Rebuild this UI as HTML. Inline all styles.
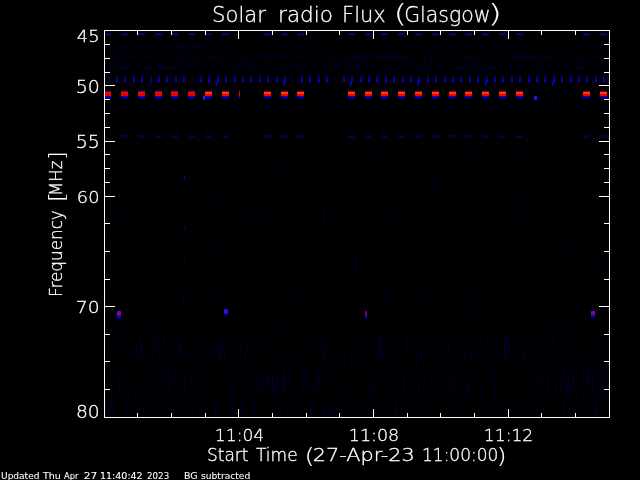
<!DOCTYPE html>
<html><head><meta charset="utf-8"><title>Solar radio Flux (Glasgow)</title>
<style>
html,body{margin:0;padding:0;background:#000;width:640px;height:480px;overflow:hidden}
svg{display:block}
text{white-space:pre}
</style></head>
<body>
<svg width="640" height="480" viewBox="0 0 640 480">
<defs>
<filter id="texA" x="0" y="0" width="1" height="1" filterUnits="objectBoundingBox" color-interpolation-filters="sRGB">
<feTurbulence type="fractalNoise" baseFrequency="0.6 0.15" numOctaves="2" seed="4"/>
<feColorMatrix type="matrix" values="0 0 0 0 0  0 0 0 0 0  0.6 0 0 0 -0.35  0 0 0 0 1"/>
</filter>
<filter id="texH" x="0" y="0" width="1" height="1" filterUnits="objectBoundingBox" color-interpolation-filters="sRGB">
<feTurbulence type="fractalNoise" baseFrequency="0.5 0.3" numOctaves="2" seed="11"/>
<feColorMatrix type="matrix" values="0 0 0 0 0  0 0 0 0 0  0.55 0 0 0 -0.22  0 0 0 0 1"/>
</filter>
<filter id="texB" x="0" y="0" width="1" height="1" filterUnits="objectBoundingBox" color-interpolation-filters="sRGB">
<feTurbulence type="fractalNoise" baseFrequency="0.9 0.025" numOctaves="2" seed="9"/>
<feColorMatrix type="matrix" values="0 0 0 0 0  0 0 0 0 0  0.55 0 0 0 -0.34  0 0 0 0 1"/>
</filter>
<filter id="texC" x="0" y="0" width="1" height="1" filterUnits="objectBoundingBox" color-interpolation-filters="sRGB">
<feTurbulence type="fractalNoise" baseFrequency="0.9 0.03" numOctaves="2" seed="2"/>
<feColorMatrix type="matrix" values="0 0 0 0 0  0 0 0 0 0  0.75 0 0 0 -0.42  0 0 0 0 1"/>
</filter>
</defs>
<rect x="0" y="0" width="640" height="480" fill="#000"/>
<g shape-rendering="crispEdges">
<rect x="105" y="31" width="504" height="386" fill="#000003"/>
<rect x="105" y="31" width="504" height="44" filter="url(#texA)"/>
<rect x="105" y="45" width="96" height="4" filter="url(#texH)"/>
<rect x="105" y="56" width="504" height="4" filter="url(#texH)"/>
<rect x="105" y="66" width="504" height="4" filter="url(#texH)"/>
<rect x="105" y="75" width="504" height="256" filter="url(#texB)"/>
<rect x="105" y="331" width="504" height="86" filter="url(#texC)"/>
<rect x="105" y="33" width="6" height="2" fill="#08085c"/>
<rect x="105" y="35" width="6" height="1" fill="#040430"/>
<rect x="121" y="33" width="7" height="2" fill="#08085c"/>
<rect x="121" y="35" width="7" height="1" fill="#040430"/>
<rect x="121" y="135" width="7" height="3" fill="#04042e"/>
<rect x="138" y="33" width="7" height="2" fill="#08085c"/>
<rect x="138" y="35" width="7" height="1" fill="#040430"/>
<rect x="138" y="135" width="7" height="3" fill="#04042e"/>
<rect x="155" y="33" width="7" height="2" fill="#08085c"/>
<rect x="155" y="35" width="7" height="1" fill="#040430"/>
<rect x="155" y="135" width="7" height="3" fill="#04042e"/>
<rect x="171" y="33" width="7" height="2" fill="#08085c"/>
<rect x="171" y="35" width="7" height="1" fill="#040430"/>
<rect x="171" y="135" width="7" height="3" fill="#04042e"/>
<rect x="188" y="33" width="7" height="2" fill="#08085c"/>
<rect x="188" y="35" width="7" height="1" fill="#040430"/>
<rect x="188" y="135" width="7" height="3" fill="#04042e"/>
<rect x="205" y="33" width="7" height="2" fill="#08085c"/>
<rect x="205" y="35" width="7" height="1" fill="#040430"/>
<rect x="205" y="135" width="7" height="3" fill="#04042e"/>
<rect x="222" y="33" width="7" height="2" fill="#08085c"/>
<rect x="222" y="35" width="7" height="1" fill="#040430"/>
<rect x="222" y="135" width="7" height="3" fill="#04042e"/>
<rect x="264" y="33" width="7" height="2" fill="#08085c"/>
<rect x="264" y="35" width="7" height="1" fill="#040430"/>
<rect x="264" y="135" width="7" height="3" fill="#04042e"/>
<rect x="281" y="33" width="7" height="2" fill="#08085c"/>
<rect x="281" y="35" width="7" height="1" fill="#040430"/>
<rect x="281" y="135" width="7" height="3" fill="#04042e"/>
<rect x="297" y="33" width="7" height="2" fill="#08085c"/>
<rect x="297" y="35" width="7" height="1" fill="#040430"/>
<rect x="297" y="135" width="7" height="3" fill="#04042e"/>
<rect x="348" y="33" width="7" height="2" fill="#08085c"/>
<rect x="348" y="35" width="7" height="1" fill="#040430"/>
<rect x="348" y="135" width="7" height="3" fill="#04042e"/>
<rect x="365" y="33" width="7" height="2" fill="#08085c"/>
<rect x="365" y="35" width="7" height="1" fill="#040430"/>
<rect x="365" y="135" width="7" height="3" fill="#04042e"/>
<rect x="381" y="33" width="7" height="2" fill="#08085c"/>
<rect x="381" y="35" width="7" height="1" fill="#040430"/>
<rect x="381" y="135" width="7" height="3" fill="#04042e"/>
<rect x="398" y="33" width="7" height="2" fill="#08085c"/>
<rect x="398" y="35" width="7" height="1" fill="#040430"/>
<rect x="398" y="135" width="7" height="3" fill="#04042e"/>
<rect x="415" y="33" width="7" height="2" fill="#08085c"/>
<rect x="415" y="35" width="7" height="1" fill="#040430"/>
<rect x="415" y="135" width="7" height="3" fill="#04042e"/>
<rect x="432" y="33" width="7" height="2" fill="#08085c"/>
<rect x="432" y="35" width="7" height="1" fill="#040430"/>
<rect x="432" y="135" width="7" height="3" fill="#04042e"/>
<rect x="449" y="33" width="7" height="2" fill="#08085c"/>
<rect x="449" y="35" width="7" height="1" fill="#040430"/>
<rect x="449" y="135" width="7" height="3" fill="#04042e"/>
<rect x="465" y="33" width="7" height="2" fill="#08085c"/>
<rect x="465" y="35" width="7" height="1" fill="#040430"/>
<rect x="465" y="135" width="7" height="3" fill="#04042e"/>
<rect x="482" y="33" width="7" height="2" fill="#08085c"/>
<rect x="482" y="35" width="7" height="1" fill="#040430"/>
<rect x="482" y="135" width="7" height="3" fill="#04042e"/>
<rect x="499" y="33" width="7" height="2" fill="#08085c"/>
<rect x="499" y="35" width="7" height="1" fill="#040430"/>
<rect x="499" y="135" width="7" height="3" fill="#04042e"/>
<rect x="516" y="33" width="7" height="2" fill="#08085c"/>
<rect x="516" y="35" width="7" height="1" fill="#040430"/>
<rect x="516" y="135" width="7" height="3" fill="#04042e"/>
<rect x="583" y="33" width="7" height="2" fill="#08085c"/>
<rect x="583" y="35" width="7" height="1" fill="#040430"/>
<rect x="583" y="135" width="7" height="3" fill="#04042e"/>
<rect x="600" y="33" width="7" height="2" fill="#08085c"/>
<rect x="600" y="35" width="7" height="1" fill="#040430"/>
<rect x="600" y="135" width="7" height="3" fill="#04042e"/>
<rect x="105" y="91" width="6" height="1" fill="#640078"/>
<rect x="105" y="92" width="6" height="1" fill="#ff0000"/>
<rect x="105" y="93" width="6" height="1" fill="#ff0000"/>
<rect x="105" y="94" width="6" height="1" fill="#d20000"/>
<rect x="105" y="95" width="6" height="1" fill="#f00000"/>
<rect x="105" y="96" width="6" height="1" fill="#0000c8"/>
<rect x="105" y="97" width="6" height="1" fill="#0000be"/>
<rect x="105" y="98" width="6" height="1" fill="#000032"/>
<rect x="121" y="91" width="7" height="1" fill="#640078"/>
<rect x="121" y="92" width="7" height="1" fill="#ff0000"/>
<rect x="121" y="93" width="7" height="1" fill="#ff0000"/>
<rect x="121" y="94" width="7" height="1" fill="#d20000"/>
<rect x="121" y="95" width="7" height="1" fill="#f00000"/>
<rect x="121" y="96" width="7" height="1" fill="#0000c8"/>
<rect x="121" y="97" width="7" height="1" fill="#0000be"/>
<rect x="121" y="98" width="7" height="1" fill="#000032"/>
<rect x="138" y="91" width="7" height="1" fill="#640078"/>
<rect x="138" y="92" width="7" height="1" fill="#ff0000"/>
<rect x="138" y="93" width="7" height="1" fill="#ff0000"/>
<rect x="138" y="94" width="7" height="1" fill="#d20000"/>
<rect x="138" y="95" width="7" height="1" fill="#f00000"/>
<rect x="138" y="96" width="7" height="1" fill="#0000c8"/>
<rect x="138" y="97" width="7" height="1" fill="#0000be"/>
<rect x="138" y="98" width="7" height="1" fill="#000032"/>
<rect x="155" y="91" width="7" height="1" fill="#640078"/>
<rect x="155" y="92" width="7" height="1" fill="#ff0000"/>
<rect x="155" y="93" width="7" height="1" fill="#ff0000"/>
<rect x="155" y="94" width="7" height="1" fill="#d20000"/>
<rect x="155" y="95" width="7" height="1" fill="#f00000"/>
<rect x="155" y="96" width="7" height="1" fill="#0000c8"/>
<rect x="155" y="97" width="7" height="1" fill="#0000be"/>
<rect x="155" y="98" width="7" height="1" fill="#000032"/>
<rect x="171" y="91" width="7" height="1" fill="#640078"/>
<rect x="171" y="92" width="7" height="1" fill="#ff0000"/>
<rect x="171" y="93" width="7" height="1" fill="#ff0000"/>
<rect x="171" y="94" width="7" height="1" fill="#d20000"/>
<rect x="171" y="95" width="7" height="1" fill="#f00000"/>
<rect x="171" y="96" width="7" height="1" fill="#0000c8"/>
<rect x="171" y="97" width="7" height="1" fill="#0000be"/>
<rect x="171" y="98" width="7" height="1" fill="#000032"/>
<rect x="188" y="91" width="7" height="1" fill="#640078"/>
<rect x="188" y="92" width="7" height="1" fill="#ff0000"/>
<rect x="188" y="93" width="7" height="1" fill="#ff0000"/>
<rect x="188" y="94" width="7" height="1" fill="#d20000"/>
<rect x="188" y="95" width="7" height="1" fill="#f00000"/>
<rect x="188" y="96" width="7" height="1" fill="#0000c8"/>
<rect x="188" y="97" width="7" height="1" fill="#0000be"/>
<rect x="188" y="98" width="7" height="1" fill="#000032"/>
<rect x="205" y="91" width="7" height="1" fill="#820028"/>
<rect x="205" y="92" width="7" height="1" fill="#ff4600"/>
<rect x="205" y="93" width="7" height="1" fill="#ff3700"/>
<rect x="205" y="94" width="7" height="1" fill="#f00000"/>
<rect x="205" y="95" width="7" height="1" fill="#ff0000"/>
<rect x="205" y="96" width="7" height="1" fill="#0000c8"/>
<rect x="205" y="97" width="7" height="1" fill="#0000aa"/>
<rect x="205" y="98" width="7" height="1" fill="#000028"/>
<rect x="222" y="91" width="7" height="1" fill="#820028"/>
<rect x="222" y="92" width="7" height="1" fill="#ff4600"/>
<rect x="222" y="93" width="7" height="1" fill="#ff3700"/>
<rect x="222" y="94" width="7" height="1" fill="#f00000"/>
<rect x="222" y="95" width="7" height="1" fill="#ff0000"/>
<rect x="222" y="96" width="7" height="1" fill="#0000c8"/>
<rect x="222" y="97" width="7" height="1" fill="#0000aa"/>
<rect x="222" y="98" width="7" height="1" fill="#000028"/>
<rect x="264" y="91" width="7" height="1" fill="#820028"/>
<rect x="264" y="92" width="7" height="1" fill="#ff4600"/>
<rect x="264" y="93" width="7" height="1" fill="#ff3700"/>
<rect x="264" y="94" width="7" height="1" fill="#f00000"/>
<rect x="264" y="95" width="7" height="1" fill="#ff0000"/>
<rect x="264" y="96" width="7" height="1" fill="#0000c8"/>
<rect x="264" y="97" width="7" height="1" fill="#0000aa"/>
<rect x="264" y="98" width="7" height="1" fill="#000028"/>
<rect x="281" y="91" width="7" height="1" fill="#820028"/>
<rect x="281" y="92" width="7" height="1" fill="#ff4600"/>
<rect x="281" y="93" width="7" height="1" fill="#ff3700"/>
<rect x="281" y="94" width="7" height="1" fill="#f00000"/>
<rect x="281" y="95" width="7" height="1" fill="#ff0000"/>
<rect x="281" y="96" width="7" height="1" fill="#0000c8"/>
<rect x="281" y="97" width="7" height="1" fill="#0000aa"/>
<rect x="281" y="98" width="7" height="1" fill="#000028"/>
<rect x="297" y="91" width="7" height="1" fill="#820028"/>
<rect x="297" y="92" width="7" height="1" fill="#ff4600"/>
<rect x="297" y="93" width="7" height="1" fill="#ff3700"/>
<rect x="297" y="94" width="7" height="1" fill="#f00000"/>
<rect x="297" y="95" width="7" height="1" fill="#ff0000"/>
<rect x="297" y="96" width="7" height="1" fill="#0000c8"/>
<rect x="297" y="97" width="7" height="1" fill="#0000aa"/>
<rect x="297" y="98" width="7" height="1" fill="#000028"/>
<rect x="348" y="91" width="7" height="1" fill="#820028"/>
<rect x="348" y="92" width="7" height="1" fill="#ff4600"/>
<rect x="348" y="93" width="7" height="1" fill="#ff3700"/>
<rect x="348" y="94" width="7" height="1" fill="#f00000"/>
<rect x="348" y="95" width="7" height="1" fill="#ff0000"/>
<rect x="348" y="96" width="7" height="1" fill="#0000c8"/>
<rect x="348" y="97" width="7" height="1" fill="#0000aa"/>
<rect x="348" y="98" width="7" height="1" fill="#000028"/>
<rect x="365" y="91" width="7" height="1" fill="#820028"/>
<rect x="365" y="92" width="7" height="1" fill="#ff4600"/>
<rect x="365" y="93" width="7" height="1" fill="#ff3700"/>
<rect x="365" y="94" width="7" height="1" fill="#f00000"/>
<rect x="365" y="95" width="7" height="1" fill="#ff0000"/>
<rect x="365" y="96" width="7" height="1" fill="#0000c8"/>
<rect x="365" y="97" width="7" height="1" fill="#0000aa"/>
<rect x="365" y="98" width="7" height="1" fill="#000028"/>
<rect x="381" y="91" width="7" height="1" fill="#820028"/>
<rect x="381" y="92" width="7" height="1" fill="#ff4600"/>
<rect x="381" y="93" width="7" height="1" fill="#ff3700"/>
<rect x="381" y="94" width="7" height="1" fill="#f00000"/>
<rect x="381" y="95" width="7" height="1" fill="#ff0000"/>
<rect x="381" y="96" width="7" height="1" fill="#0000c8"/>
<rect x="381" y="97" width="7" height="1" fill="#0000aa"/>
<rect x="381" y="98" width="7" height="1" fill="#000028"/>
<rect x="398" y="91" width="7" height="1" fill="#820028"/>
<rect x="398" y="92" width="7" height="1" fill="#ff4600"/>
<rect x="398" y="93" width="7" height="1" fill="#ff3700"/>
<rect x="398" y="94" width="7" height="1" fill="#f00000"/>
<rect x="398" y="95" width="7" height="1" fill="#ff0000"/>
<rect x="398" y="96" width="7" height="1" fill="#0000c8"/>
<rect x="398" y="97" width="7" height="1" fill="#0000aa"/>
<rect x="398" y="98" width="7" height="1" fill="#000028"/>
<rect x="415" y="91" width="7" height="1" fill="#820028"/>
<rect x="415" y="92" width="7" height="1" fill="#ff4600"/>
<rect x="415" y="93" width="7" height="1" fill="#ff3700"/>
<rect x="415" y="94" width="7" height="1" fill="#f00000"/>
<rect x="415" y="95" width="7" height="1" fill="#ff0000"/>
<rect x="415" y="96" width="7" height="1" fill="#0000c8"/>
<rect x="415" y="97" width="7" height="1" fill="#0000aa"/>
<rect x="415" y="98" width="7" height="1" fill="#000028"/>
<rect x="432" y="91" width="7" height="1" fill="#820028"/>
<rect x="432" y="92" width="7" height="1" fill="#ff4600"/>
<rect x="432" y="93" width="7" height="1" fill="#ff3700"/>
<rect x="432" y="94" width="7" height="1" fill="#f00000"/>
<rect x="432" y="95" width="7" height="1" fill="#ff0000"/>
<rect x="432" y="96" width="7" height="1" fill="#0000c8"/>
<rect x="432" y="97" width="7" height="1" fill="#0000aa"/>
<rect x="432" y="98" width="7" height="1" fill="#000028"/>
<rect x="449" y="91" width="7" height="1" fill="#820028"/>
<rect x="449" y="92" width="7" height="1" fill="#ff4600"/>
<rect x="449" y="93" width="7" height="1" fill="#ff3700"/>
<rect x="449" y="94" width="7" height="1" fill="#f00000"/>
<rect x="449" y="95" width="7" height="1" fill="#ff0000"/>
<rect x="449" y="96" width="7" height="1" fill="#0000c8"/>
<rect x="449" y="97" width="7" height="1" fill="#0000aa"/>
<rect x="449" y="98" width="7" height="1" fill="#000028"/>
<rect x="465" y="91" width="7" height="1" fill="#820028"/>
<rect x="465" y="92" width="7" height="1" fill="#ff4600"/>
<rect x="465" y="93" width="7" height="1" fill="#ff3700"/>
<rect x="465" y="94" width="7" height="1" fill="#f00000"/>
<rect x="465" y="95" width="7" height="1" fill="#ff0000"/>
<rect x="465" y="96" width="7" height="1" fill="#0000c8"/>
<rect x="465" y="97" width="7" height="1" fill="#0000aa"/>
<rect x="465" y="98" width="7" height="1" fill="#000028"/>
<rect x="482" y="91" width="7" height="1" fill="#820028"/>
<rect x="482" y="92" width="7" height="1" fill="#ff4600"/>
<rect x="482" y="93" width="7" height="1" fill="#ff3700"/>
<rect x="482" y="94" width="7" height="1" fill="#f00000"/>
<rect x="482" y="95" width="7" height="1" fill="#ff0000"/>
<rect x="482" y="96" width="7" height="1" fill="#0000c8"/>
<rect x="482" y="97" width="7" height="1" fill="#0000aa"/>
<rect x="482" y="98" width="7" height="1" fill="#000028"/>
<rect x="499" y="91" width="7" height="1" fill="#820028"/>
<rect x="499" y="92" width="7" height="1" fill="#ff4600"/>
<rect x="499" y="93" width="7" height="1" fill="#ff3700"/>
<rect x="499" y="94" width="7" height="1" fill="#f00000"/>
<rect x="499" y="95" width="7" height="1" fill="#ff0000"/>
<rect x="499" y="96" width="7" height="1" fill="#0000c8"/>
<rect x="499" y="97" width="7" height="1" fill="#0000aa"/>
<rect x="499" y="98" width="7" height="1" fill="#000028"/>
<rect x="516" y="91" width="7" height="1" fill="#820028"/>
<rect x="516" y="92" width="7" height="1" fill="#ff4600"/>
<rect x="516" y="93" width="7" height="1" fill="#ff3700"/>
<rect x="516" y="94" width="7" height="1" fill="#f00000"/>
<rect x="516" y="95" width="7" height="1" fill="#ff0000"/>
<rect x="516" y="96" width="7" height="1" fill="#0000c8"/>
<rect x="516" y="97" width="7" height="1" fill="#0000aa"/>
<rect x="516" y="98" width="7" height="1" fill="#000028"/>
<rect x="583" y="91" width="7" height="1" fill="#820028"/>
<rect x="583" y="92" width="7" height="1" fill="#ff4600"/>
<rect x="583" y="93" width="7" height="1" fill="#ff3700"/>
<rect x="583" y="94" width="7" height="1" fill="#f00000"/>
<rect x="583" y="95" width="7" height="1" fill="#ff0000"/>
<rect x="583" y="96" width="7" height="1" fill="#0000c8"/>
<rect x="583" y="97" width="7" height="1" fill="#0000aa"/>
<rect x="583" y="98" width="7" height="1" fill="#000028"/>
<rect x="600" y="91" width="7" height="1" fill="#820028"/>
<rect x="600" y="92" width="7" height="1" fill="#ff4600"/>
<rect x="600" y="93" width="7" height="1" fill="#ff3700"/>
<rect x="600" y="94" width="7" height="1" fill="#f00000"/>
<rect x="600" y="95" width="7" height="1" fill="#ff0000"/>
<rect x="600" y="96" width="7" height="1" fill="#0000c8"/>
<rect x="600" y="97" width="7" height="1" fill="#0000aa"/>
<rect x="600" y="98" width="7" height="1" fill="#000028"/>
<rect x="239" y="91" width="1" height="5" fill="#e00000"/>
<rect x="239" y="96" width="1" height="2" fill="#1010b0"/>
<rect x="203" y="96" width="2" height="4" fill="#2020ff"/>
<rect x="534" y="96" width="3" height="4" fill="#1818ff"/>
<rect x="109" y="75" width="1" height="1" fill="#000028"/>
<rect x="109" y="76" width="1" height="1" fill="#00003c"/>
<rect x="109" y="77" width="1" height="1" fill="#000070"/>
<rect x="109" y="78" width="1" height="1" fill="#000064"/>
<rect x="109" y="79" width="1" height="1" fill="#00006a"/>
<rect x="109" y="80" width="1" height="1" fill="#0000a0"/>
<rect x="109" y="81" width="1" height="1" fill="#000090"/>
<rect x="109" y="82" width="1" height="1" fill="#00001c"/>
<rect x="116" y="75" width="2" height="1" fill="#00003c"/>
<rect x="116" y="76" width="2" height="1" fill="#00005a"/>
<rect x="116" y="77" width="2" height="1" fill="#0000aa"/>
<rect x="116" y="78" width="2" height="1" fill="#000096"/>
<rect x="116" y="79" width="2" height="1" fill="#0000a0"/>
<rect x="116" y="80" width="2" height="1" fill="#0000f0"/>
<rect x="116" y="81" width="2" height="1" fill="#0000dc"/>
<rect x="116" y="82" width="2" height="1" fill="#000028"/>
<rect x="124" y="75" width="2" height="1" fill="#00003c"/>
<rect x="124" y="76" width="2" height="1" fill="#00005a"/>
<rect x="124" y="77" width="2" height="1" fill="#0000aa"/>
<rect x="124" y="78" width="2" height="1" fill="#000096"/>
<rect x="124" y="79" width="2" height="1" fill="#0000a0"/>
<rect x="124" y="80" width="2" height="1" fill="#0000f0"/>
<rect x="124" y="81" width="2" height="1" fill="#0000dc"/>
<rect x="124" y="82" width="2" height="1" fill="#000028"/>
<rect x="133" y="75" width="2" height="1" fill="#00003c"/>
<rect x="133" y="76" width="2" height="1" fill="#00005a"/>
<rect x="133" y="77" width="2" height="1" fill="#0000aa"/>
<rect x="133" y="78" width="2" height="1" fill="#000096"/>
<rect x="133" y="79" width="2" height="1" fill="#0000a0"/>
<rect x="133" y="80" width="2" height="1" fill="#0000f0"/>
<rect x="133" y="81" width="2" height="1" fill="#0000dc"/>
<rect x="133" y="82" width="2" height="1" fill="#000028"/>
<rect x="141" y="75" width="2" height="1" fill="#00003c"/>
<rect x="141" y="76" width="2" height="1" fill="#00005a"/>
<rect x="141" y="77" width="2" height="1" fill="#0000aa"/>
<rect x="141" y="78" width="2" height="1" fill="#000096"/>
<rect x="141" y="79" width="2" height="1" fill="#0000a0"/>
<rect x="141" y="80" width="2" height="1" fill="#0000f0"/>
<rect x="141" y="81" width="2" height="1" fill="#0000dc"/>
<rect x="141" y="82" width="2" height="1" fill="#000028"/>
<rect x="151" y="75" width="1" height="1" fill="#00003c"/>
<rect x="151" y="76" width="1" height="1" fill="#00005a"/>
<rect x="151" y="77" width="1" height="1" fill="#0000aa"/>
<rect x="151" y="78" width="1" height="1" fill="#000096"/>
<rect x="151" y="79" width="1" height="1" fill="#0000a0"/>
<rect x="151" y="80" width="1" height="1" fill="#0000f0"/>
<rect x="151" y="81" width="1" height="1" fill="#0000dc"/>
<rect x="150" y="82" width="1" height="3" fill="#0000e0"/>
<rect x="150" y="85" width="1" height="3" fill="#00002c"/>
<rect x="158" y="75" width="2" height="1" fill="#00003c"/>
<rect x="158" y="76" width="2" height="1" fill="#00005a"/>
<rect x="158" y="77" width="2" height="1" fill="#0000aa"/>
<rect x="158" y="78" width="2" height="1" fill="#000096"/>
<rect x="158" y="79" width="2" height="1" fill="#0000a0"/>
<rect x="158" y="80" width="2" height="1" fill="#0000f0"/>
<rect x="158" y="81" width="2" height="1" fill="#0000dc"/>
<rect x="158" y="82" width="2" height="1" fill="#000028"/>
<rect x="166" y="75" width="2" height="1" fill="#00003c"/>
<rect x="166" y="76" width="2" height="1" fill="#00005a"/>
<rect x="166" y="77" width="2" height="1" fill="#0000aa"/>
<rect x="166" y="78" width="2" height="1" fill="#000096"/>
<rect x="166" y="79" width="2" height="1" fill="#0000a0"/>
<rect x="166" y="80" width="2" height="1" fill="#0000f0"/>
<rect x="166" y="81" width="2" height="1" fill="#0000dc"/>
<rect x="166" y="82" width="2" height="1" fill="#000028"/>
<rect x="175" y="75" width="2" height="1" fill="#00003c"/>
<rect x="175" y="76" width="2" height="1" fill="#00005a"/>
<rect x="175" y="77" width="2" height="1" fill="#0000aa"/>
<rect x="175" y="78" width="2" height="1" fill="#000096"/>
<rect x="175" y="79" width="2" height="1" fill="#0000a0"/>
<rect x="175" y="80" width="2" height="1" fill="#0000f0"/>
<rect x="175" y="81" width="2" height="1" fill="#0000dc"/>
<rect x="175" y="82" width="2" height="1" fill="#000028"/>
<rect x="183" y="75" width="2" height="1" fill="#00003c"/>
<rect x="183" y="76" width="2" height="1" fill="#00005a"/>
<rect x="183" y="77" width="2" height="1" fill="#0000aa"/>
<rect x="183" y="78" width="2" height="1" fill="#000096"/>
<rect x="183" y="79" width="2" height="1" fill="#0000a0"/>
<rect x="183" y="80" width="2" height="1" fill="#0000f0"/>
<rect x="183" y="81" width="2" height="1" fill="#0000dc"/>
<rect x="183" y="82" width="2" height="1" fill="#000028"/>
<rect x="192" y="75" width="1" height="1" fill="#000028"/>
<rect x="192" y="76" width="1" height="1" fill="#00003c"/>
<rect x="192" y="77" width="1" height="1" fill="#000070"/>
<rect x="192" y="78" width="1" height="1" fill="#000064"/>
<rect x="192" y="79" width="1" height="1" fill="#00006a"/>
<rect x="192" y="80" width="1" height="1" fill="#0000a0"/>
<rect x="192" y="81" width="1" height="1" fill="#000090"/>
<rect x="192" y="82" width="1" height="1" fill="#00001c"/>
<rect x="200" y="75" width="2" height="1" fill="#00003c"/>
<rect x="200" y="76" width="2" height="1" fill="#00005a"/>
<rect x="200" y="77" width="2" height="1" fill="#0000aa"/>
<rect x="200" y="78" width="2" height="1" fill="#000096"/>
<rect x="200" y="79" width="2" height="1" fill="#0000a0"/>
<rect x="200" y="80" width="2" height="1" fill="#0000f0"/>
<rect x="200" y="81" width="2" height="1" fill="#0000dc"/>
<rect x="200" y="82" width="2" height="1" fill="#000028"/>
<rect x="208" y="75" width="2" height="1" fill="#00003c"/>
<rect x="208" y="76" width="2" height="1" fill="#00005a"/>
<rect x="208" y="77" width="2" height="1" fill="#0000aa"/>
<rect x="208" y="78" width="2" height="1" fill="#000096"/>
<rect x="208" y="79" width="2" height="1" fill="#0000a0"/>
<rect x="208" y="80" width="2" height="1" fill="#0000f0"/>
<rect x="208" y="81" width="2" height="1" fill="#0000dc"/>
<rect x="208" y="82" width="2" height="1" fill="#000028"/>
<rect x="217" y="75" width="2" height="1" fill="#00003c"/>
<rect x="217" y="76" width="2" height="1" fill="#00005a"/>
<rect x="217" y="77" width="2" height="1" fill="#0000aa"/>
<rect x="217" y="78" width="2" height="1" fill="#000096"/>
<rect x="217" y="79" width="2" height="1" fill="#0000a0"/>
<rect x="217" y="80" width="2" height="1" fill="#0000f0"/>
<rect x="217" y="81" width="2" height="1" fill="#0000dc"/>
<rect x="216" y="82" width="2" height="3" fill="#0000e0"/>
<rect x="216" y="85" width="1" height="3" fill="#00002c"/>
<rect x="225" y="75" width="2" height="1" fill="#00003c"/>
<rect x="225" y="76" width="2" height="1" fill="#00005a"/>
<rect x="225" y="77" width="2" height="1" fill="#0000aa"/>
<rect x="225" y="78" width="2" height="1" fill="#000096"/>
<rect x="225" y="79" width="2" height="1" fill="#0000a0"/>
<rect x="225" y="80" width="2" height="1" fill="#0000f0"/>
<rect x="225" y="81" width="2" height="1" fill="#0000dc"/>
<rect x="225" y="82" width="2" height="1" fill="#000028"/>
<rect x="234" y="75" width="2" height="1" fill="#00003c"/>
<rect x="234" y="76" width="2" height="1" fill="#00005a"/>
<rect x="234" y="77" width="2" height="1" fill="#0000aa"/>
<rect x="234" y="78" width="2" height="1" fill="#000096"/>
<rect x="234" y="79" width="2" height="1" fill="#0000a0"/>
<rect x="234" y="80" width="2" height="1" fill="#0000f0"/>
<rect x="234" y="81" width="2" height="1" fill="#0000dc"/>
<rect x="234" y="82" width="2" height="1" fill="#000028"/>
<rect x="242" y="75" width="2" height="1" fill="#00003c"/>
<rect x="242" y="76" width="2" height="1" fill="#00005a"/>
<rect x="242" y="77" width="2" height="1" fill="#0000aa"/>
<rect x="242" y="78" width="2" height="1" fill="#000096"/>
<rect x="242" y="79" width="2" height="1" fill="#0000a0"/>
<rect x="242" y="80" width="2" height="1" fill="#0000f0"/>
<rect x="242" y="81" width="2" height="1" fill="#0000dc"/>
<rect x="242" y="82" width="2" height="1" fill="#000028"/>
<rect x="250" y="75" width="2" height="1" fill="#00003c"/>
<rect x="250" y="76" width="2" height="1" fill="#00005a"/>
<rect x="250" y="77" width="2" height="1" fill="#0000aa"/>
<rect x="250" y="78" width="2" height="1" fill="#000096"/>
<rect x="250" y="79" width="2" height="1" fill="#0000a0"/>
<rect x="250" y="80" width="2" height="1" fill="#0000f0"/>
<rect x="250" y="81" width="2" height="1" fill="#0000dc"/>
<rect x="250" y="82" width="2" height="1" fill="#000028"/>
<rect x="259" y="75" width="2" height="1" fill="#00003c"/>
<rect x="259" y="76" width="2" height="1" fill="#00005a"/>
<rect x="259" y="77" width="2" height="1" fill="#0000aa"/>
<rect x="259" y="78" width="2" height="1" fill="#000096"/>
<rect x="259" y="79" width="2" height="1" fill="#0000a0"/>
<rect x="259" y="80" width="2" height="1" fill="#0000f0"/>
<rect x="259" y="81" width="2" height="1" fill="#0000dc"/>
<rect x="259" y="82" width="2" height="1" fill="#000028"/>
<rect x="267" y="75" width="2" height="1" fill="#00003c"/>
<rect x="267" y="76" width="2" height="1" fill="#00005a"/>
<rect x="267" y="77" width="2" height="1" fill="#0000aa"/>
<rect x="267" y="78" width="2" height="1" fill="#000096"/>
<rect x="267" y="79" width="2" height="1" fill="#0000a0"/>
<rect x="267" y="80" width="2" height="1" fill="#0000f0"/>
<rect x="267" y="81" width="2" height="1" fill="#0000dc"/>
<rect x="267" y="82" width="2" height="1" fill="#000028"/>
<rect x="276" y="75" width="2" height="1" fill="#00003c"/>
<rect x="276" y="76" width="2" height="1" fill="#00005a"/>
<rect x="276" y="77" width="2" height="1" fill="#0000aa"/>
<rect x="276" y="78" width="2" height="1" fill="#000096"/>
<rect x="276" y="79" width="2" height="1" fill="#0000a0"/>
<rect x="276" y="80" width="2" height="1" fill="#0000f0"/>
<rect x="276" y="81" width="2" height="1" fill="#0000dc"/>
<rect x="276" y="82" width="2" height="1" fill="#000028"/>
<rect x="284" y="75" width="2" height="1" fill="#00003c"/>
<rect x="284" y="76" width="2" height="1" fill="#00005a"/>
<rect x="284" y="77" width="2" height="1" fill="#0000aa"/>
<rect x="284" y="78" width="2" height="1" fill="#000096"/>
<rect x="284" y="79" width="2" height="1" fill="#0000a0"/>
<rect x="284" y="80" width="2" height="1" fill="#0000f0"/>
<rect x="284" y="81" width="2" height="1" fill="#0000dc"/>
<rect x="283" y="82" width="2" height="3" fill="#0000e0"/>
<rect x="283" y="85" width="1" height="3" fill="#00002c"/>
<rect x="292" y="75" width="1" height="1" fill="#000028"/>
<rect x="292" y="76" width="1" height="1" fill="#00003c"/>
<rect x="292" y="77" width="1" height="1" fill="#000070"/>
<rect x="292" y="78" width="1" height="1" fill="#000064"/>
<rect x="292" y="79" width="1" height="1" fill="#00006a"/>
<rect x="292" y="80" width="1" height="1" fill="#0000a0"/>
<rect x="292" y="81" width="1" height="1" fill="#000090"/>
<rect x="292" y="82" width="1" height="1" fill="#00001c"/>
<rect x="301" y="75" width="2" height="1" fill="#00003c"/>
<rect x="301" y="76" width="2" height="1" fill="#00005a"/>
<rect x="301" y="77" width="2" height="1" fill="#0000aa"/>
<rect x="301" y="78" width="2" height="1" fill="#000096"/>
<rect x="301" y="79" width="2" height="1" fill="#0000a0"/>
<rect x="301" y="80" width="2" height="1" fill="#0000f0"/>
<rect x="301" y="81" width="2" height="1" fill="#0000dc"/>
<rect x="301" y="82" width="2" height="1" fill="#000028"/>
<rect x="309" y="75" width="2" height="1" fill="#00003c"/>
<rect x="309" y="76" width="2" height="1" fill="#00005a"/>
<rect x="309" y="77" width="2" height="1" fill="#0000aa"/>
<rect x="309" y="78" width="2" height="1" fill="#000096"/>
<rect x="309" y="79" width="2" height="1" fill="#0000a0"/>
<rect x="309" y="80" width="2" height="1" fill="#0000f0"/>
<rect x="309" y="81" width="2" height="1" fill="#0000dc"/>
<rect x="309" y="82" width="2" height="1" fill="#000028"/>
<rect x="318" y="75" width="2" height="1" fill="#00003c"/>
<rect x="318" y="76" width="2" height="1" fill="#00005a"/>
<rect x="318" y="77" width="2" height="1" fill="#0000aa"/>
<rect x="318" y="78" width="2" height="1" fill="#000096"/>
<rect x="318" y="79" width="2" height="1" fill="#0000a0"/>
<rect x="318" y="80" width="2" height="1" fill="#0000f0"/>
<rect x="318" y="81" width="2" height="1" fill="#0000dc"/>
<rect x="318" y="82" width="2" height="1" fill="#000028"/>
<rect x="326" y="75" width="2" height="1" fill="#00003c"/>
<rect x="326" y="76" width="2" height="1" fill="#00005a"/>
<rect x="326" y="77" width="2" height="1" fill="#0000aa"/>
<rect x="326" y="78" width="2" height="1" fill="#000096"/>
<rect x="326" y="79" width="2" height="1" fill="#0000a0"/>
<rect x="326" y="80" width="2" height="1" fill="#0000f0"/>
<rect x="326" y="81" width="2" height="1" fill="#0000dc"/>
<rect x="326" y="82" width="2" height="1" fill="#000028"/>
<rect x="334" y="75" width="1" height="1" fill="#000028"/>
<rect x="334" y="76" width="1" height="1" fill="#00003c"/>
<rect x="334" y="77" width="1" height="1" fill="#000070"/>
<rect x="334" y="78" width="1" height="1" fill="#000064"/>
<rect x="334" y="79" width="1" height="1" fill="#00006a"/>
<rect x="334" y="80" width="1" height="1" fill="#0000a0"/>
<rect x="334" y="81" width="1" height="1" fill="#000090"/>
<rect x="334" y="82" width="1" height="1" fill="#00001c"/>
<rect x="343" y="75" width="2" height="1" fill="#00003c"/>
<rect x="343" y="76" width="2" height="1" fill="#00005a"/>
<rect x="343" y="77" width="2" height="1" fill="#0000aa"/>
<rect x="343" y="78" width="2" height="1" fill="#000096"/>
<rect x="343" y="79" width="2" height="1" fill="#0000a0"/>
<rect x="343" y="80" width="2" height="1" fill="#0000f0"/>
<rect x="343" y="81" width="2" height="1" fill="#0000dc"/>
<rect x="343" y="82" width="2" height="1" fill="#000028"/>
<rect x="351" y="75" width="2" height="1" fill="#00003c"/>
<rect x="351" y="76" width="2" height="1" fill="#00005a"/>
<rect x="351" y="77" width="2" height="1" fill="#0000aa"/>
<rect x="351" y="78" width="2" height="1" fill="#000096"/>
<rect x="351" y="79" width="2" height="1" fill="#0000a0"/>
<rect x="351" y="80" width="2" height="1" fill="#0000f0"/>
<rect x="351" y="81" width="2" height="1" fill="#0000dc"/>
<rect x="350" y="82" width="2" height="3" fill="#0000e0"/>
<rect x="350" y="85" width="1" height="3" fill="#00002c"/>
<rect x="360" y="75" width="2" height="1" fill="#00003c"/>
<rect x="360" y="76" width="2" height="1" fill="#00005a"/>
<rect x="360" y="77" width="2" height="1" fill="#0000aa"/>
<rect x="360" y="78" width="2" height="1" fill="#000096"/>
<rect x="360" y="79" width="2" height="1" fill="#0000a0"/>
<rect x="360" y="80" width="2" height="1" fill="#0000f0"/>
<rect x="360" y="81" width="2" height="1" fill="#0000dc"/>
<rect x="360" y="82" width="2" height="1" fill="#000028"/>
<rect x="368" y="75" width="2" height="1" fill="#00003c"/>
<rect x="368" y="76" width="2" height="1" fill="#00005a"/>
<rect x="368" y="77" width="2" height="1" fill="#0000aa"/>
<rect x="368" y="78" width="2" height="1" fill="#000096"/>
<rect x="368" y="79" width="2" height="1" fill="#0000a0"/>
<rect x="368" y="80" width="2" height="1" fill="#0000f0"/>
<rect x="368" y="81" width="2" height="1" fill="#0000dc"/>
<rect x="368" y="82" width="2" height="1" fill="#000028"/>
<rect x="376" y="75" width="2" height="1" fill="#00003c"/>
<rect x="376" y="76" width="2" height="1" fill="#00005a"/>
<rect x="376" y="77" width="2" height="1" fill="#0000aa"/>
<rect x="376" y="78" width="2" height="1" fill="#000096"/>
<rect x="376" y="79" width="2" height="1" fill="#0000a0"/>
<rect x="376" y="80" width="2" height="1" fill="#0000f0"/>
<rect x="376" y="81" width="2" height="1" fill="#0000dc"/>
<rect x="376" y="82" width="2" height="1" fill="#000028"/>
<rect x="385" y="75" width="2" height="1" fill="#00003c"/>
<rect x="385" y="76" width="2" height="1" fill="#00005a"/>
<rect x="385" y="77" width="2" height="1" fill="#0000aa"/>
<rect x="385" y="78" width="2" height="1" fill="#000096"/>
<rect x="385" y="79" width="2" height="1" fill="#0000a0"/>
<rect x="385" y="80" width="2" height="1" fill="#0000f0"/>
<rect x="385" y="81" width="2" height="1" fill="#0000dc"/>
<rect x="385" y="82" width="2" height="1" fill="#000028"/>
<rect x="393" y="75" width="2" height="1" fill="#00003c"/>
<rect x="393" y="76" width="2" height="1" fill="#00005a"/>
<rect x="393" y="77" width="2" height="1" fill="#0000aa"/>
<rect x="393" y="78" width="2" height="1" fill="#000096"/>
<rect x="393" y="79" width="2" height="1" fill="#0000a0"/>
<rect x="393" y="80" width="2" height="1" fill="#0000f0"/>
<rect x="393" y="81" width="2" height="1" fill="#0000dc"/>
<rect x="393" y="82" width="2" height="1" fill="#000028"/>
<rect x="402" y="75" width="2" height="1" fill="#00003c"/>
<rect x="402" y="76" width="2" height="1" fill="#00005a"/>
<rect x="402" y="77" width="2" height="1" fill="#0000aa"/>
<rect x="402" y="78" width="2" height="1" fill="#000096"/>
<rect x="402" y="79" width="2" height="1" fill="#0000a0"/>
<rect x="402" y="80" width="2" height="1" fill="#0000f0"/>
<rect x="402" y="81" width="2" height="1" fill="#0000dc"/>
<rect x="402" y="82" width="2" height="1" fill="#000028"/>
<rect x="410" y="75" width="2" height="1" fill="#00003c"/>
<rect x="410" y="76" width="2" height="1" fill="#00005a"/>
<rect x="410" y="77" width="2" height="1" fill="#0000aa"/>
<rect x="410" y="78" width="2" height="1" fill="#000096"/>
<rect x="410" y="79" width="2" height="1" fill="#0000a0"/>
<rect x="410" y="80" width="2" height="1" fill="#0000f0"/>
<rect x="410" y="81" width="2" height="1" fill="#0000dc"/>
<rect x="410" y="82" width="2" height="1" fill="#000028"/>
<rect x="418" y="75" width="2" height="1" fill="#00003c"/>
<rect x="418" y="76" width="2" height="1" fill="#00005a"/>
<rect x="418" y="77" width="2" height="1" fill="#0000aa"/>
<rect x="418" y="78" width="2" height="1" fill="#000096"/>
<rect x="418" y="79" width="2" height="1" fill="#0000a0"/>
<rect x="418" y="80" width="2" height="1" fill="#0000f0"/>
<rect x="418" y="81" width="2" height="1" fill="#0000dc"/>
<rect x="417" y="82" width="2" height="3" fill="#0000e0"/>
<rect x="417" y="85" width="1" height="3" fill="#00002c"/>
<rect x="427" y="75" width="2" height="1" fill="#00003c"/>
<rect x="427" y="76" width="2" height="1" fill="#00005a"/>
<rect x="427" y="77" width="2" height="1" fill="#0000aa"/>
<rect x="427" y="78" width="2" height="1" fill="#000096"/>
<rect x="427" y="79" width="2" height="1" fill="#0000a0"/>
<rect x="427" y="80" width="2" height="1" fill="#0000f0"/>
<rect x="427" y="81" width="2" height="1" fill="#0000dc"/>
<rect x="427" y="82" width="2" height="1" fill="#000028"/>
<rect x="435" y="75" width="2" height="1" fill="#00003c"/>
<rect x="435" y="76" width="2" height="1" fill="#00005a"/>
<rect x="435" y="77" width="2" height="1" fill="#0000aa"/>
<rect x="435" y="78" width="2" height="1" fill="#000096"/>
<rect x="435" y="79" width="2" height="1" fill="#0000a0"/>
<rect x="435" y="80" width="2" height="1" fill="#0000f0"/>
<rect x="435" y="81" width="2" height="1" fill="#0000dc"/>
<rect x="435" y="82" width="2" height="1" fill="#000028"/>
<rect x="444" y="75" width="2" height="1" fill="#00003c"/>
<rect x="444" y="76" width="2" height="1" fill="#00005a"/>
<rect x="444" y="77" width="2" height="1" fill="#0000aa"/>
<rect x="444" y="78" width="2" height="1" fill="#000096"/>
<rect x="444" y="79" width="2" height="1" fill="#0000a0"/>
<rect x="444" y="80" width="2" height="1" fill="#0000f0"/>
<rect x="444" y="81" width="2" height="1" fill="#0000dc"/>
<rect x="444" y="82" width="2" height="1" fill="#000028"/>
<rect x="452" y="75" width="2" height="1" fill="#00003c"/>
<rect x="452" y="76" width="2" height="1" fill="#00005a"/>
<rect x="452" y="77" width="2" height="1" fill="#0000aa"/>
<rect x="452" y="78" width="2" height="1" fill="#000096"/>
<rect x="452" y="79" width="2" height="1" fill="#0000a0"/>
<rect x="452" y="80" width="2" height="1" fill="#0000f0"/>
<rect x="452" y="81" width="2" height="1" fill="#0000dc"/>
<rect x="452" y="82" width="2" height="1" fill="#000028"/>
<rect x="460" y="75" width="2" height="1" fill="#00003c"/>
<rect x="460" y="76" width="2" height="1" fill="#00005a"/>
<rect x="460" y="77" width="2" height="1" fill="#0000aa"/>
<rect x="460" y="78" width="2" height="1" fill="#000096"/>
<rect x="460" y="79" width="2" height="1" fill="#0000a0"/>
<rect x="460" y="80" width="2" height="1" fill="#0000f0"/>
<rect x="460" y="81" width="2" height="1" fill="#0000dc"/>
<rect x="460" y="82" width="2" height="1" fill="#000028"/>
<rect x="469" y="75" width="2" height="1" fill="#00003c"/>
<rect x="469" y="76" width="2" height="1" fill="#00005a"/>
<rect x="469" y="77" width="2" height="1" fill="#0000aa"/>
<rect x="469" y="78" width="2" height="1" fill="#000096"/>
<rect x="469" y="79" width="2" height="1" fill="#0000a0"/>
<rect x="469" y="80" width="2" height="1" fill="#0000f0"/>
<rect x="469" y="81" width="2" height="1" fill="#0000dc"/>
<rect x="469" y="82" width="2" height="1" fill="#000028"/>
<rect x="477" y="75" width="2" height="1" fill="#00003c"/>
<rect x="477" y="76" width="2" height="1" fill="#00005a"/>
<rect x="477" y="77" width="2" height="1" fill="#0000aa"/>
<rect x="477" y="78" width="2" height="1" fill="#000096"/>
<rect x="477" y="79" width="2" height="1" fill="#0000a0"/>
<rect x="477" y="80" width="2" height="1" fill="#0000f0"/>
<rect x="477" y="81" width="2" height="1" fill="#0000dc"/>
<rect x="477" y="82" width="2" height="1" fill="#000028"/>
<rect x="486" y="75" width="2" height="1" fill="#00003c"/>
<rect x="486" y="76" width="2" height="1" fill="#00005a"/>
<rect x="486" y="77" width="2" height="1" fill="#0000aa"/>
<rect x="486" y="78" width="2" height="1" fill="#000096"/>
<rect x="486" y="79" width="2" height="1" fill="#0000a0"/>
<rect x="486" y="80" width="2" height="1" fill="#0000f0"/>
<rect x="486" y="81" width="2" height="1" fill="#0000dc"/>
<rect x="485" y="82" width="2" height="3" fill="#0000e0"/>
<rect x="485" y="85" width="1" height="3" fill="#00002c"/>
<rect x="494" y="75" width="2" height="1" fill="#00003c"/>
<rect x="494" y="76" width="2" height="1" fill="#00005a"/>
<rect x="494" y="77" width="2" height="1" fill="#0000aa"/>
<rect x="494" y="78" width="2" height="1" fill="#000096"/>
<rect x="494" y="79" width="2" height="1" fill="#0000a0"/>
<rect x="494" y="80" width="2" height="1" fill="#0000f0"/>
<rect x="494" y="81" width="2" height="1" fill="#0000dc"/>
<rect x="494" y="82" width="2" height="1" fill="#000028"/>
<rect x="502" y="75" width="2" height="1" fill="#00003c"/>
<rect x="502" y="76" width="2" height="1" fill="#00005a"/>
<rect x="502" y="77" width="2" height="1" fill="#0000aa"/>
<rect x="502" y="78" width="2" height="1" fill="#000096"/>
<rect x="502" y="79" width="2" height="1" fill="#0000a0"/>
<rect x="502" y="80" width="2" height="1" fill="#0000f0"/>
<rect x="502" y="81" width="2" height="1" fill="#0000dc"/>
<rect x="502" y="82" width="2" height="1" fill="#000028"/>
<rect x="511" y="75" width="2" height="1" fill="#00003c"/>
<rect x="511" y="76" width="2" height="1" fill="#00005a"/>
<rect x="511" y="77" width="2" height="1" fill="#0000aa"/>
<rect x="511" y="78" width="2" height="1" fill="#000096"/>
<rect x="511" y="79" width="2" height="1" fill="#0000a0"/>
<rect x="511" y="80" width="2" height="1" fill="#0000f0"/>
<rect x="511" y="81" width="2" height="1" fill="#0000dc"/>
<rect x="511" y="82" width="2" height="1" fill="#000028"/>
<rect x="519" y="75" width="2" height="1" fill="#00003c"/>
<rect x="519" y="76" width="2" height="1" fill="#00005a"/>
<rect x="519" y="77" width="2" height="1" fill="#0000aa"/>
<rect x="519" y="78" width="2" height="1" fill="#000096"/>
<rect x="519" y="79" width="2" height="1" fill="#0000a0"/>
<rect x="519" y="80" width="2" height="1" fill="#0000f0"/>
<rect x="519" y="81" width="2" height="1" fill="#0000dc"/>
<rect x="519" y="82" width="2" height="1" fill="#000028"/>
<rect x="528" y="75" width="2" height="1" fill="#00003c"/>
<rect x="528" y="76" width="2" height="1" fill="#00005a"/>
<rect x="528" y="77" width="2" height="1" fill="#0000aa"/>
<rect x="528" y="78" width="2" height="1" fill="#000096"/>
<rect x="528" y="79" width="2" height="1" fill="#0000a0"/>
<rect x="528" y="80" width="2" height="1" fill="#0000f0"/>
<rect x="528" y="81" width="2" height="1" fill="#0000dc"/>
<rect x="528" y="82" width="2" height="1" fill="#000028"/>
<rect x="536" y="75" width="2" height="1" fill="#00003c"/>
<rect x="536" y="76" width="2" height="1" fill="#00005a"/>
<rect x="536" y="77" width="2" height="1" fill="#0000aa"/>
<rect x="536" y="78" width="2" height="1" fill="#000096"/>
<rect x="536" y="79" width="2" height="1" fill="#0000a0"/>
<rect x="536" y="80" width="2" height="1" fill="#0000f0"/>
<rect x="536" y="81" width="2" height="1" fill="#0000dc"/>
<rect x="536" y="82" width="2" height="1" fill="#000028"/>
<rect x="544" y="75" width="2" height="1" fill="#00003c"/>
<rect x="544" y="76" width="2" height="1" fill="#00005a"/>
<rect x="544" y="77" width="2" height="1" fill="#0000aa"/>
<rect x="544" y="78" width="2" height="1" fill="#000096"/>
<rect x="544" y="79" width="2" height="1" fill="#0000a0"/>
<rect x="544" y="80" width="2" height="1" fill="#0000f0"/>
<rect x="544" y="81" width="2" height="1" fill="#0000dc"/>
<rect x="544" y="82" width="2" height="1" fill="#000028"/>
<rect x="553" y="75" width="2" height="1" fill="#00003c"/>
<rect x="553" y="76" width="2" height="1" fill="#00005a"/>
<rect x="553" y="77" width="2" height="1" fill="#0000aa"/>
<rect x="553" y="78" width="2" height="1" fill="#000096"/>
<rect x="553" y="79" width="2" height="1" fill="#0000a0"/>
<rect x="553" y="80" width="2" height="1" fill="#0000f0"/>
<rect x="553" y="81" width="2" height="1" fill="#0000dc"/>
<rect x="552" y="82" width="2" height="3" fill="#0000e0"/>
<rect x="552" y="85" width="1" height="3" fill="#00002c"/>
<rect x="561" y="75" width="2" height="1" fill="#00003c"/>
<rect x="561" y="76" width="2" height="1" fill="#00005a"/>
<rect x="561" y="77" width="2" height="1" fill="#0000aa"/>
<rect x="561" y="78" width="2" height="1" fill="#000096"/>
<rect x="561" y="79" width="2" height="1" fill="#0000a0"/>
<rect x="561" y="80" width="2" height="1" fill="#0000f0"/>
<rect x="561" y="81" width="2" height="1" fill="#0000dc"/>
<rect x="561" y="82" width="2" height="1" fill="#000028"/>
<rect x="570" y="75" width="2" height="1" fill="#00003c"/>
<rect x="570" y="76" width="2" height="1" fill="#00005a"/>
<rect x="570" y="77" width="2" height="1" fill="#0000aa"/>
<rect x="570" y="78" width="2" height="1" fill="#000096"/>
<rect x="570" y="79" width="2" height="1" fill="#0000a0"/>
<rect x="570" y="80" width="2" height="1" fill="#0000f0"/>
<rect x="570" y="81" width="2" height="1" fill="#0000dc"/>
<rect x="570" y="82" width="2" height="1" fill="#000028"/>
<rect x="578" y="75" width="2" height="1" fill="#00003c"/>
<rect x="578" y="76" width="2" height="1" fill="#00005a"/>
<rect x="578" y="77" width="2" height="1" fill="#0000aa"/>
<rect x="578" y="78" width="2" height="1" fill="#000096"/>
<rect x="578" y="79" width="2" height="1" fill="#0000a0"/>
<rect x="578" y="80" width="2" height="1" fill="#0000f0"/>
<rect x="578" y="81" width="2" height="1" fill="#0000dc"/>
<rect x="578" y="82" width="2" height="1" fill="#000028"/>
<rect x="586" y="75" width="2" height="1" fill="#00003c"/>
<rect x="586" y="76" width="2" height="1" fill="#00005a"/>
<rect x="586" y="77" width="2" height="1" fill="#0000aa"/>
<rect x="586" y="78" width="2" height="1" fill="#000096"/>
<rect x="586" y="79" width="2" height="1" fill="#0000a0"/>
<rect x="586" y="80" width="2" height="1" fill="#0000f0"/>
<rect x="586" y="81" width="2" height="1" fill="#0000dc"/>
<rect x="586" y="82" width="2" height="1" fill="#000028"/>
<rect x="595" y="75" width="2" height="1" fill="#00003c"/>
<rect x="595" y="76" width="2" height="1" fill="#00005a"/>
<rect x="595" y="77" width="2" height="1" fill="#0000aa"/>
<rect x="595" y="78" width="2" height="1" fill="#000096"/>
<rect x="595" y="79" width="2" height="1" fill="#0000a0"/>
<rect x="595" y="80" width="2" height="1" fill="#0000f0"/>
<rect x="595" y="81" width="2" height="1" fill="#0000dc"/>
<rect x="595" y="82" width="2" height="1" fill="#000028"/>
<rect x="603" y="75" width="2" height="1" fill="#00003c"/>
<rect x="603" y="76" width="2" height="1" fill="#00005a"/>
<rect x="603" y="77" width="2" height="1" fill="#0000aa"/>
<rect x="603" y="78" width="2" height="1" fill="#000096"/>
<rect x="603" y="79" width="2" height="1" fill="#0000a0"/>
<rect x="603" y="80" width="2" height="1" fill="#0000f0"/>
<rect x="603" y="81" width="2" height="1" fill="#0000dc"/>
<rect x="603" y="82" width="2" height="1" fill="#000028"/>
<rect x="117" y="311" width="4" height="1" fill="#5000ff"/>
<rect x="117" y="312" width="4" height="1" fill="#6000e0"/>
<rect x="117" y="313" width="4" height="1" fill="#c00030"/>
<rect x="117" y="314" width="4" height="1" fill="#b00040"/>
<rect x="117" y="315" width="4" height="1" fill="#4000c0"/>
<rect x="117" y="316" width="4" height="1" fill="#0000ff"/>
<rect x="117" y="317" width="4" height="1" fill="#0000e0"/>
<rect x="117" y="318" width="4" height="1" fill="#000040"/>
<rect x="224" y="309" width="4" height="1" fill="#3000ff"/>
<rect x="224" y="310" width="4" height="1" fill="#3000ff"/>
<rect x="224" y="311" width="4" height="1" fill="#7000c0"/>
<rect x="224" y="312" width="4" height="1" fill="#7000c0"/>
<rect x="224" y="313" width="4" height="1" fill="#0000c0"/>
<rect x="224" y="314" width="4" height="1" fill="#0000b0"/>
<rect x="365" y="311" width="2" height="1" fill="#4000ff"/>
<rect x="365" y="312" width="2" height="1" fill="#3000f0"/>
<rect x="365" y="313" width="2" height="1" fill="#d00000"/>
<rect x="365" y="314" width="2" height="1" fill="#b00020"/>
<rect x="365" y="315" width="2" height="1" fill="#5000c0"/>
<rect x="365" y="316" width="2" height="1" fill="#0000ff"/>
<rect x="365" y="317" width="2" height="1" fill="#0000e0"/>
<rect x="365" y="318" width="2" height="1" fill="#000040"/>
<rect x="591" y="311" width="4" height="1" fill="#5000ff"/>
<rect x="591" y="312" width="4" height="1" fill="#a00060"/>
<rect x="591" y="313" width="4" height="1" fill="#d00000"/>
<rect x="591" y="314" width="4" height="1" fill="#6000c0"/>
<rect x="591" y="315" width="4" height="1" fill="#0000ff"/>
<rect x="591" y="316" width="4" height="1" fill="#0000e0"/>
<rect x="591" y="317" width="4" height="1" fill="#000040"/>
<rect x="184" y="176" width="1" height="4" fill="#0808a0"/>
<rect x="184" y="226" width="1" height="5" fill="#040450"/>
<rect x="184" y="260" width="1" height="4" fill="#030340"/>
</g>
<g fill="#fff" shape-rendering="crispEdges">
<rect x="104" y="30" width="506" height="1"/>
<rect x="104" y="417" width="506" height="1"/>
<rect x="104" y="30" width="1" height="388"/>
<rect x="609" y="30" width="1" height="388"/>
<rect x="105" y="85" width="10" height="1"/>
<rect x="599" y="85" width="10" height="1"/>
<rect x="105" y="141" width="10" height="1"/>
<rect x="599" y="141" width="10" height="1"/>
<rect x="105" y="196" width="10" height="1"/>
<rect x="599" y="196" width="10" height="1"/>
<rect x="105" y="306" width="10" height="1"/>
<rect x="599" y="306" width="10" height="1"/>
<rect x="105" y="44" width="5" height="1"/>
<rect x="604" y="44" width="5" height="1"/>
<rect x="105" y="58" width="5" height="1"/>
<rect x="604" y="58" width="5" height="1"/>
<rect x="105" y="72" width="5" height="1"/>
<rect x="604" y="72" width="5" height="1"/>
<rect x="105" y="99" width="5" height="1"/>
<rect x="604" y="99" width="5" height="1"/>
<rect x="105" y="113" width="5" height="1"/>
<rect x="604" y="113" width="5" height="1"/>
<rect x="105" y="127" width="5" height="1"/>
<rect x="604" y="127" width="5" height="1"/>
<rect x="105" y="154" width="5" height="1"/>
<rect x="604" y="154" width="5" height="1"/>
<rect x="105" y="168" width="5" height="1"/>
<rect x="604" y="168" width="5" height="1"/>
<rect x="105" y="182" width="5" height="1"/>
<rect x="604" y="182" width="5" height="1"/>
<rect x="105" y="223" width="5" height="1"/>
<rect x="604" y="223" width="5" height="1"/>
<rect x="105" y="251" width="5" height="1"/>
<rect x="604" y="251" width="5" height="1"/>
<rect x="105" y="279" width="5" height="1"/>
<rect x="604" y="279" width="5" height="1"/>
<rect x="105" y="334" width="5" height="1"/>
<rect x="604" y="334" width="5" height="1"/>
<rect x="105" y="361" width="5" height="1"/>
<rect x="604" y="361" width="5" height="1"/>
<rect x="105" y="389" width="5" height="1"/>
<rect x="604" y="389" width="5" height="1"/>
<rect x="137" y="31" width="1" height="4"/>
<rect x="137" y="413" width="1" height="4"/>
<rect x="171" y="31" width="1" height="4"/>
<rect x="171" y="413" width="1" height="4"/>
<rect x="205" y="31" width="1" height="4"/>
<rect x="205" y="413" width="1" height="4"/>
<rect x="238" y="31" width="1" height="8"/>
<rect x="238" y="409" width="1" height="8"/>
<rect x="272" y="31" width="1" height="4"/>
<rect x="272" y="413" width="1" height="4"/>
<rect x="306" y="31" width="1" height="4"/>
<rect x="306" y="413" width="1" height="4"/>
<rect x="339" y="31" width="1" height="4"/>
<rect x="339" y="413" width="1" height="4"/>
<rect x="373" y="31" width="1" height="8"/>
<rect x="373" y="409" width="1" height="8"/>
<rect x="407" y="31" width="1" height="4"/>
<rect x="407" y="413" width="1" height="4"/>
<rect x="440" y="31" width="1" height="4"/>
<rect x="440" y="413" width="1" height="4"/>
<rect x="474" y="31" width="1" height="4"/>
<rect x="474" y="413" width="1" height="4"/>
<rect x="508" y="31" width="1" height="8"/>
<rect x="508" y="409" width="1" height="8"/>
<rect x="541" y="31" width="1" height="4"/>
<rect x="541" y="413" width="1" height="4"/>
<rect x="575" y="31" width="1" height="4"/>
<rect x="575" y="413" width="1" height="4"/>
</g>
<g fill="#fff" stroke="#fff" stroke-width="0.3" font-family="'DejaVu Sans', 'Liberation Sans', sans-serif">
<text y="22" font-size="22" font-weight="200"><tspan x="212.07" textLength="54.0" lengthAdjust="spacingAndGlyphs">Solar</tspan> <tspan x="278.04" textLength="55.0" lengthAdjust="spacingAndGlyphs">radio</tspan> <tspan x="342.1" textLength="43.56" lengthAdjust="spacingAndGlyphs">Flux</tspan> <tspan x="393.5" textLength="13.65" lengthAdjust="spacingAndGlyphs" y="22.3" font-size="25" stroke-width="0.1">(</tspan><tspan x="404.13" textLength="86.51" lengthAdjust="spacingAndGlyphs" y="22" font-size="22" stroke-width="0.3">Glasgow</tspan><tspan x="487.5" textLength="14.65" lengthAdjust="spacingAndGlyphs" y="22.3" font-size="25" stroke-width="0.1">)</tspan></text>
<text x="76.89" y="42" font-size="16" font-weight="200" textLength="22.62" lengthAdjust="spacingAndGlyphs">45</text>
<text x="75.78" y="93" font-size="17" font-weight="200" textLength="24.05" lengthAdjust="spacingAndGlyphs">50</text>
<text x="75.78" y="148" font-size="17" font-weight="200" textLength="24.05" lengthAdjust="spacingAndGlyphs">55</text>
<text x="76.89" y="203" font-size="16" font-weight="200" textLength="22.62" lengthAdjust="spacingAndGlyphs">60</text>
<text x="75.83" y="313" font-size="16" font-weight="200" textLength="23.75" lengthAdjust="spacingAndGlyphs">70</text>
<text x="75.95" y="418" font-size="17" font-weight="200" textLength="23.78" lengthAdjust="spacingAndGlyphs">80</text>
<text x="214.86" y="441" font-size="16" font-weight="200" textLength="49.33" lengthAdjust="spacingAndGlyphs">11:04</text>
<text x="348.81" y="441" font-size="16" font-weight="200" textLength="50.4" lengthAdjust="spacingAndGlyphs">11:08</text>
<text x="483.86" y="441" font-size="16" font-weight="200" textLength="49.33" lengthAdjust="spacingAndGlyphs">11:12</text>
<text y="461" font-size="17" font-weight="200"><tspan x="207.0" textLength="41.53" lengthAdjust="spacingAndGlyphs">Start</tspan> <tspan x="256.0" textLength="41.61" lengthAdjust="spacingAndGlyphs">Time</tspan> <tspan x="304.5" textLength="10.25" lengthAdjust="spacingAndGlyphs" y="462.5" font-size="21" stroke-width="0.15">(</tspan><tspan x="312.78" textLength="102.04" lengthAdjust="spacingAndGlyphs" y="461" font-size="17" stroke-width="0.3">27-Apr-23</tspan> <tspan x="422.0" textLength="76.36" lengthAdjust="spacingAndGlyphs">11:00:00</tspan><tspan x="496.5" textLength="10.25" lengthAdjust="spacingAndGlyphs" y="462.5" font-size="21" stroke-width="0.15">)</tspan></text>
<text font-size="17" font-weight="200" transform="rotate(-90)"><tspan x="-296.98" y="62" textLength="86.79" lengthAdjust="spacingAndGlyphs">Frequency</tspan> <tspan x="-202.5" y="64" textLength="10.74" lengthAdjust="spacingAndGlyphs" font-size="22" stroke-width="0">[</tspan><tspan x="-195.91" y="62" textLength="35.27" lengthAdjust="spacingAndGlyphs" font-size="17" stroke-width="0.3">MHz</tspan><tspan x="-160.0" y="64" textLength="8.59" lengthAdjust="spacingAndGlyphs" font-size="22" stroke-width="0">]</tspan></text>
<text y="479" font-size="9.5" font-weight="normal" stroke-width="0.08"><tspan x="1.05" textLength="38.36" lengthAdjust="spacingAndGlyphs">Updated</tspan> <tspan x="43.0" textLength="17.86" lengthAdjust="spacingAndGlyphs">Thu</tspan> <tspan x="64.0" textLength="14.5" lengthAdjust="spacingAndGlyphs">Apr</tspan> <tspan x="83.8" textLength="13.51" lengthAdjust="spacingAndGlyphs">27</tspan> <tspan x="100.0" textLength="42.67" lengthAdjust="spacingAndGlyphs">11:40:42</tspan> <tspan x="147.04" textLength="22.14" lengthAdjust="spacingAndGlyphs">2023</tspan>   <tspan x="184.0" textLength="13.72" lengthAdjust="spacingAndGlyphs">BG</tspan> <tspan x="201.0" textLength="49.27" lengthAdjust="spacingAndGlyphs">subtracted</tspan></text>
</g>
</svg>
</body></html>
